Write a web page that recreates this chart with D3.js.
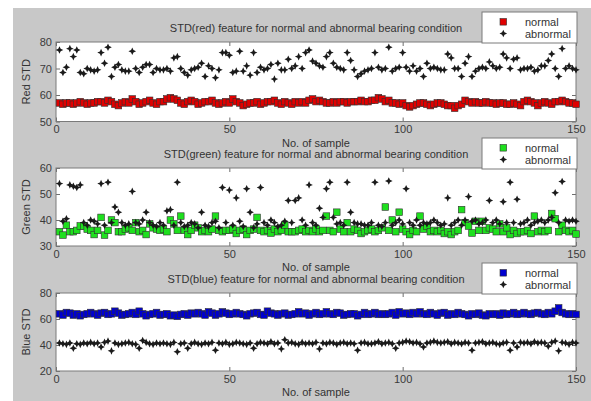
<!DOCTYPE html>
<html>
<head>
<meta charset="utf-8">
<script src="https://cdn.jsdelivr.net/npm/d3@7"></script>
<style>
  body { margin: 0; background: #fff; }
  svg { font-family: "Liberation Sans", Arial, sans-serif; }
  .tick text { fill: #3a3a3a; font-size: 11px; }
  .tick line { stroke: #6e6e6e; }
</style>
</head>
<body>
<div id="fig"></div>
<script>
// sample numbers 1..150 on the x axis
const xTicks = [0, 50, 100, 150];

// red channel
const redNormal = [
  57, 56.5, 57, 57, 56.5, 57, 57.5, 57, 56.5, 57,
  57, 57.5, 57.5, 57, 58, 57.5, 56.5, 56, 57, 57.5,
  57, 58.5, 57.5, 56.5, 57, 57.5, 58, 57, 56.5, 57.5,
  57.5, 58.5, 59, 58.5, 58, 57, 56.5, 57.5, 58, 57.5,
  56.5, 57, 57.5, 57.5, 58, 57, 56.5, 57, 57.5, 57,
  58.5, 57.5, 57, 56, 56.5, 57, 57, 57.5, 56.5, 57,
  57.5, 57.5, 58, 57, 56.5, 57.5, 57, 56.5, 57.5, 57,
  57.5, 57, 58, 58.5, 57.5, 58, 57.5, 57, 57, 57.5,
  57, 57.5, 57.5, 57, 57.5, 57.5, 57.5, 58, 57.5, 57.5,
  58, 58, 59, 58.5, 57.5, 58, 57, 57, 56.5, 57,
  56, 55.5, 56, 56.5, 57, 57, 56.5, 56, 56.5, 57,
  57, 56.5, 56, 56, 55, 56, 56.5, 58, 57.5, 57,
  57.5, 57, 57, 57.5, 57, 57, 56.5, 57, 57, 56.5,
  56.5, 57, 56.5, 56, 57.5, 58, 57.5, 57, 56, 57,
  57.5, 57, 56.5, 57.5, 57.5, 58, 57.5, 57, 57, 56.5
];
const redAbnormal = [
  77, 68.5, 70.5, 77.5, 74.5, 77, 68.5, 68, 70, 69.5,
  69, 69.5, 76, 72, 78, 67, 70.5, 71.5, 69.5, 69,
  69, 76.5, 70, 68.5, 70.5, 71.5, 71.5, 68.5, 70, 69.5,
  69.5, 70, 69, 74, 74.5, 70, 68.5, 67.5, 69.5, 70,
  70.5, 72, 67, 71, 70, 66.5, 69.5, 76, 76, 75,
  68.5, 69, 76.5, 69, 71, 67.5, 76, 68.5, 70.5, 69.5,
  70, 71.5, 66, 72, 69.5, 69.5, 73.5, 70, 71, 74.5,
  70, 76, 77, 72.8, 72, 71, 70.5, 74.5, 76, 72,
  70.5, 70, 69.5, 76, 73, 69.5, 67, 68, 69, 69.5,
  70, 76, 70.5, 69.5, 70, 78, 69, 70, 70.5, 76,
  70.5, 69, 71, 69, 70, 67, 72, 70, 70.5, 70,
  69.5, 69.5, 75.5, 74, 70, 70, 67, 72, 74.5, 67,
  69, 70, 70.5, 70, 72.5, 71, 70, 70.5, 75.5, 74,
  70, 73.5, 74, 69.5, 70, 70, 70.5, 69, 69.5, 71,
  71, 73, 75.5, 70, 67, 77.5, 70, 71, 70, 69.5
];

// green channel
const greenNormal = [
  35.5, 34.2, 38, 35.5, 35.5, 36, 37.7, 37.7, 36.5, 36,
  34.4, 36, 41, 34.2, 36, 40, 39, 35.5, 35.5, 36.5,
  37, 36, 39, 35.5, 36, 34.4, 38.5, 37, 36.5, 36,
  36.5, 35.5, 40, 38.5, 36, 41.5, 36, 34.4, 36, 38,
  37, 35.5, 36, 35.5, 36.5, 41.5, 36, 35.5, 36, 36,
  36.5, 34.8, 36, 36.5, 34.4, 36, 36.5, 41, 36, 35.5,
  36, 35, 36.5, 35.5, 36, 38, 35.5, 35.5, 35.5, 36,
  36.5, 35.5, 36, 35.5, 36.5, 35.5, 36, 41.5, 36, 35.5,
  43, 36.5, 35.5, 39, 35.5, 36.5, 36, 34.8, 35.5, 36,
  36.5, 35.5, 36, 37, 45, 36, 40, 35.5, 43, 36.5,
  35.5, 34.4, 36, 35.5, 41.5, 36.5, 37.7, 35.5, 36, 35.5,
  36, 34.8, 35.5, 34.4, 35.5, 36, 44, 39, 37.7, 35,
  39.5, 36, 39.5, 36, 37, 36.5, 35.5, 38.5, 35.5, 37,
  34.4, 36, 34.8, 35.5, 35.5, 36, 34.8, 41.5, 35.5, 36,
  35.5, 36, 42.5, 40.5, 35.5, 38, 36, 35.5, 36, 34.6
];
const greenAbnormal = [
  54, 39.5, 40.5, 53.5, 53, 52.5, 53.5, 39, 38, 40,
  39.5, 38.5, 54, 38, 54.5, 39, 45, 43, 39, 38,
  38.5, 51, 39, 38.5, 40, 43, 39, 38, 37.5, 39,
  38, 43.5, 44, 38, 54.5, 39, 37.5, 38, 39, 38.5,
  37, 43, 38, 37.5, 39, 39.5, 37, 52.5, 39, 51.5,
  38, 48.5, 39.5, 37.5, 52, 43, 37, 38.5, 52.5, 39,
  38, 40, 39, 37.5, 38, 39.5, 47.5, 39, 47.5, 48.5,
  40, 38, 53.5, 39, 38, 44.5, 41, 52, 54.5, 41,
  38.5, 39, 38, 54.5, 43, 39, 38.5, 38.5, 38, 38,
  39, 54.5, 38, 37.5, 39, 55, 38, 39, 40, 38.5,
  52, 39, 38, 40, 38, 39, 38.5, 39, 40, 39,
  38, 38.5, 48.5, 38, 39, 40, 38, 40, 49, 39.5,
  40, 38.5, 39, 40, 47.5, 39, 40, 38.5, 47, 39,
  54.5, 39, 48, 38.5, 39, 40, 38, 39, 39.5, 40,
  39, 40, 41, 50.5, 39, 54.8, 40, 39.5, 40, 39.5
];

// blue channel
const blueNormal = [
  64, 63, 65, 64.5, 63, 64, 62.5, 63.5, 64, 65,
  64, 63, 64.5, 65, 63.5, 64, 66, 64.5, 63, 63.5,
  64, 65, 63.5, 66, 64, 62.5, 63.5, 64, 65, 63,
  63.5, 64, 62.5, 63, 62, 63.5, 64, 63, 64.5, 64,
  65, 64, 63, 65.5, 64.5, 63, 64, 65.5, 64.5, 63.5,
  64, 65, 64, 63.5, 62.5, 64, 64.5, 65, 63.5, 63,
  66, 64.5, 64, 63, 64, 64.5, 63, 63.5, 64, 65.5,
  64, 64.5, 63, 64, 65, 63.5, 64, 65.5, 64, 63.5,
  65, 64.5, 63, 63.5, 64, 64, 62.5, 63.5, 65, 63.5,
  64, 65, 63.5, 64, 63.5, 64, 65, 63, 65.5, 64,
  64.5, 63.5, 65, 64, 65.5, 64, 63.5, 65, 64, 63,
  64.5, 65, 63, 64, 63.5, 65, 64, 63.5, 62.5, 64,
  63.5, 64.5, 63, 62.5, 64, 63.5, 64, 63, 64.5, 63.5,
  64, 65, 63.5, 64, 65, 64, 63.5, 64.5, 65, 64,
  63.5, 65, 64, 66, 68.5, 65, 64, 63.5, 64, 63.5
];
const blueAbnormal = [
  41.5, 41, 40.5, 41.5, 37.5, 41, 40.5, 41.5, 41, 42,
  41, 41.5, 38.5, 42, 43, 35.5, 41.5, 40.5, 41, 41.5,
  42, 41, 40.5, 37.5, 43.5, 42, 41, 40.5, 41.5, 41,
  41.5, 41, 40.5, 42, 34.8, 41, 41.5, 37.5, 41, 42,
  41, 40.5, 41.5, 41, 42, 36, 41.5, 41, 42, 40.5,
  41, 42, 41.5, 41, 40.5, 41.5, 37.5, 41, 42, 41.5,
  41, 42.5, 41, 41.5, 37, 44, 41.5, 42, 41, 40.5,
  42, 41, 41.5, 41, 42, 37, 41.5, 41, 42, 41.5,
  40.5, 41.5, 42, 41, 41.5, 41, 36, 41.5, 42, 41,
  41, 41.5, 42.5, 41, 41.5, 42, 41, 37.5, 41.5, 42,
  43, 42.5, 41.5, 42, 41, 38.5, 41.5, 42, 43, 42,
  41.5, 42, 42.5, 41, 42, 41.5, 41, 42, 41.5, 36,
  41.5, 42, 42.5, 41, 41.5, 42, 41, 40.5, 41.5, 42,
  36, 41.5, 38.5, 42, 41.5, 42, 41, 42.5, 41.5, 42,
  41.5, 39, 42, 43, 35.5, 42, 41.5, 40.5, 42, 41.5
];

const panels = [
  { title: "STD(red) feature for normal and abnormal bearing condition", ylabel: "Red STD",
    normal: redNormal, abnormal: redAbnormal, color: "#e00000",
    yDomain: [50, 80], yTicks: [50, 60, 70, 80], top: 42, bottom: 121.5 },
  { title: "STD(green) feature for normal and abnormal bearing condition", ylabel: "Green STD",
    normal: greenNormal, abnormal: greenAbnormal, color: "#1ee01e",
    yDomain: [30, 60], yTicks: [30, 40, 50, 60], top: 168, bottom: 246 },
  { title: "STD(blue) feature for normal and abnormal bearing condition", ylabel: "Blue STD",
    normal: blueNormal, abnormal: blueAbnormal, color: "#0000d0",
    yDomain: [20, 80], yTicks: [20, 40, 60, 80], top: 293, bottom: 371 }
];

const W = 591, H = 401;
const left = 56, right = 576;
const sq = 6.6; // square marker side

const svg = d3.select("#fig").append("svg")
  .attr("width", W)
  .attr("height", H);

// grey figure background
svg.append("rect")
  .attr("x", 13).attr("y", 8)
  .attr("width", W - 13).attr("height", H - 8)
  .attr("fill", "#c8c8c8");

const x = d3.scaleLinear().domain([0, 150]).range([left, right]);

// four pointed star used for 'abnormal'
const star = "M0,-3.8L1.2,-1.2L3.8,0L1.2,1.2L0,3.8L-1.2,1.2L-3.8,0L-1.2,-1.2Z";

panels.forEach(p => {
  const y = d3.scaleLinear().domain(p.yDomain).range([p.bottom, p.top]);
  const g = svg.append("g");

  g.append("rect")
    .attr("x", left).attr("y", p.top)
    .attr("width", right - left).attr("height", p.bottom - p.top)
    .attr("fill", "#fff");

  // axes, ticks pointing inwards like matlab
  g.append("g").attr("transform", `translate(0,${p.bottom})`)
    .call(d3.axisBottom(x).tickValues(xTicks).tickSize(-4).tickPadding(4));
  g.append("g").attr("transform", `translate(0,${p.top})`)
    .call(d3.axisTop(x).tickValues(xTicks).tickSize(-4).tickFormat(""));
  g.append("g").attr("transform", `translate(${left},0)`)
    .call(d3.axisLeft(y).tickValues(p.yTicks).tickSize(-4).tickPadding(4));
  g.append("g").attr("transform", `translate(${right},0)`)
    .call(d3.axisRight(y).tickValues(p.yTicks).tickSize(-4).tickFormat(""));
  g.selectAll(".domain").remove();

  g.append("rect")
    .attr("x", left).attr("y", p.top)
    .attr("width", right - left).attr("height", p.bottom - p.top)
    .attr("fill", "none").attr("stroke", "#7a7a7a");

  // normal: filled squares
  g.append("g").selectAll("rect")
    .data(p.normal)
    .join("rect")
    .attr("x", (d, i) => x(i + 1) - sq / 2)
    .attr("y", d => y(d) - sq / 2)
    .attr("width", sq).attr("height", sq)
    .attr("fill", p.color)
    .attr("stroke", "#303030")
    .attr("stroke-width", 0.6);

  // abnormal: black stars
  g.append("g").selectAll("path")
    .data(p.abnormal)
    .join("path")
    .attr("transform", (d, i) => `translate(${x(i + 1)},${y(d)})`)
    .attr("d", star)
    .attr("fill", "#1a1a1a");

  // title, axis labels
  g.append("text")
    .attr("x", (left + right) / 2).attr("y", p.top - 10)
    .attr("text-anchor", "middle")
    .attr("font-size", 11).attr("fill", "#333")
    .text(p.title);

  g.append("text")
    .attr("x", (left + right) / 2).attr("y", p.bottom + 25)
    .attr("text-anchor", "middle")
    .attr("font-size", 11).attr("fill", "#333")
    .text("No. of sample");

  g.append("text")
    .attr("transform", `translate(30,${(p.top + p.bottom) / 2}) rotate(-90)`)
    .attr("text-anchor", "middle")
    .attr("font-size", 11).attr("fill", "#333")
    .text(p.ylabel);

  // legend box in the upper right
  const lg = g.append("g").attr("transform", `translate(482,${p.top - 30})`);
  lg.append("rect")
    .attr("width", 95).attr("height", 31)
    .attr("fill", "#fff").attr("stroke", "#7a7a7a");
  lg.append("rect")
    .attr("x", 18).attr("y", 6.5).attr("width", sq).attr("height", sq)
    .attr("fill", p.color).attr("stroke", "#303030").attr("stroke-width", 0.6);
  lg.append("path")
    .attr("transform", "translate(21.3,21.5)")
    .attr("d", star).attr("fill", "#1a1a1a");
  lg.append("text").attr("x", 43).attr("y", 13.5)
    .attr("font-size", 11).attr("fill", "#333").text("normal");
  lg.append("text").attr("x", 43).attr("y", 25.5)
    .attr("font-size", 11).attr("fill", "#333").text("abnormal");
});
</script>
</body>
</html>
